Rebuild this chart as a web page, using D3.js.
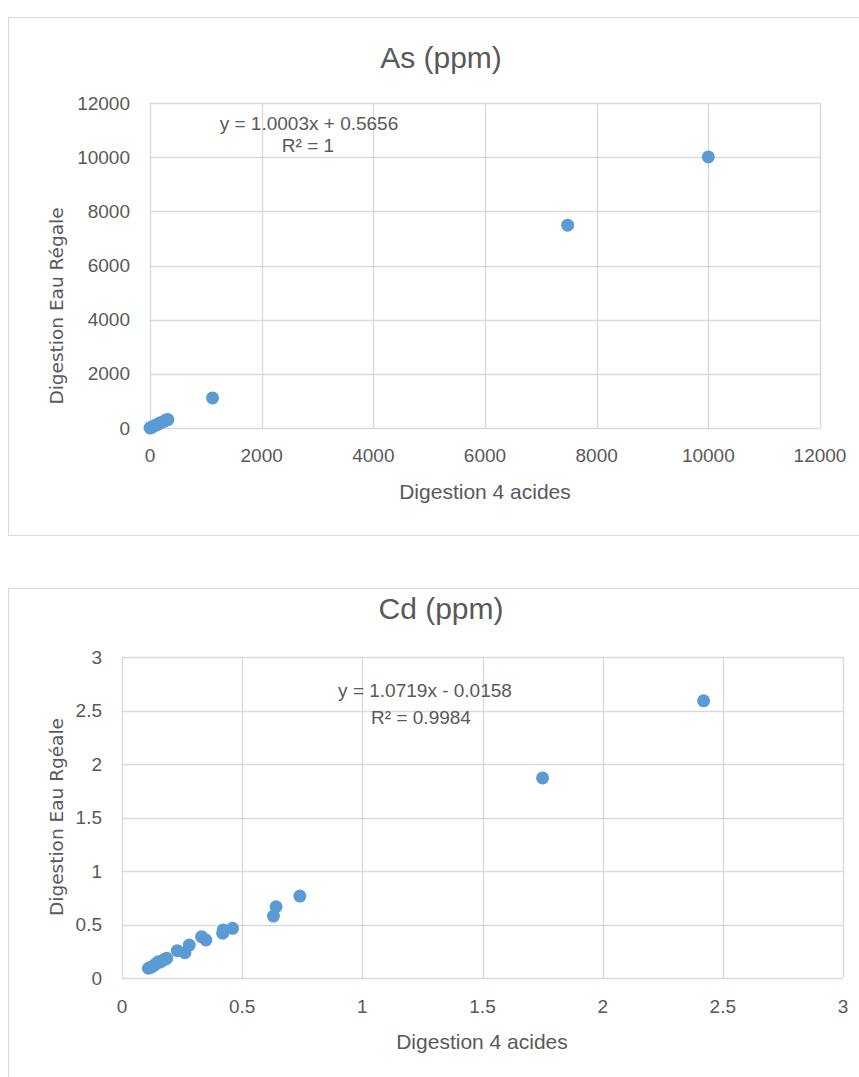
<!DOCTYPE html>
<html><head><meta charset="utf-8">
<script src="https://cdn.jsdelivr.net/npm/d3@7"></script>
<style>
body{margin:0;background:#fff;}
svg{display:block;}
</style></head>
<body>
<svg id="c" width="859" height="1077"></svg>
<script>
// ---- Data ----
const asX = [0, 10, 25, 50, 80, 120, 160, 200, 250, 290, 320, 1120, 7480, 10000];
const asY = [0, 12, 25, 48, 85, 118, 165, 205, 245, 300, 310, 1110, 7490, 10010];
const asTicks = [0, 2000, 4000, 6000, 8000, 10000, 12000];

const cdX = [0.110, 0.120, 0.130, 0.140, 0.151, 0.160, 0.172, 0.180, 0.186, 0.230, 0.262, 0.280, 0.331, 0.349, 0.419, 0.421, 0.460, 0.630, 0.641, 0.740, 1.75, 2.42];
const cdY = [0.091, 0.100, 0.112, 0.130, 0.152, 0.150, 0.168, 0.175, 0.184, 0.255, 0.236, 0.308, 0.386, 0.355, 0.418, 0.449, 0.464, 0.579, 0.666, 0.766, 1.87, 2.59];
const cdTicks = [0, 0.5, 1, 1.5, 2, 2.5, 3];

const svg = d3.select("#c");
const narrow = "'Liberation Sans', 'Open Sans', sans-serif";
const wide = "'DejaVu Sans', 'Open Sans', sans-serif";
const grey = "#595959";

function chart(o){
  const g = svg.append("g");
  // panel border
  g.append("rect").attr("x", o.panel[0]+0.5).attr("y", o.panel[1]+0.5)
    .attr("width", o.panel[2]).attr("height", o.panel[3])
    .attr("fill", "#fff").attr("stroke", "#d9d9d9");
  const x = d3.scaleLinear().domain([0, o.max]).range(o.xr);
  const y = d3.scaleLinear().domain([0, o.max]).range(o.yr);
  // grid
  g.append("g").selectAll("line.v").data(o.ticks).join("line")
    .attr("x1", d=>Math.round(x(d))+0.5).attr("x2", d=>Math.round(x(d))+0.5)
    .attr("y1", o.yr[1]).attr("y2", o.yr[0])
    .attr("stroke", "#d9d9d9").attr("stroke-width", 1.3);
  g.append("g").selectAll("line.h").data(o.ticks).join("line")
    .attr("y1", d=>Math.round(y(d))+0.5).attr("y2", d=>Math.round(y(d))+0.5)
    .attr("x1", o.xr[0]).attr("x2", o.xr[1])
    .attr("stroke", "#d9d9d9").attr("stroke-width", 1.3);
  // tick labels
  g.append("g").selectAll("text").data(o.ticks).join("text")
    .attr("x", d=>x(d)).attr("y", o.yr[0]+ o.xtOff).attr("dy", "0.35em")
    .attr("text-anchor", "middle").attr("font-family", narrow).attr("font-size", 19)
    .attr("fill", grey).text(d=>d);
  g.append("g").selectAll("text").data(o.ticks).join("text")
    .attr("x", o.xr[0]-20).attr("y", d=>y(d)).attr("dy", "0.35em")
    .attr("text-anchor", "end").attr("font-family", narrow).attr("font-size", 19)
    .attr("fill", grey).text(d=>d);
  // title
  g.append("text").attr("x", o.title[0]).attr("y", o.title[1]).attr("dy", "0.35em")
    .attr("text-anchor", "middle").attr("font-family", narrow).attr("font-size", 30)
    .attr("fill", grey).text(o.titleText);
  // axis titles
  g.append("text").attr("x", o.xlab[0]).attr("y", o.xlab[1]).attr("dy", "0.35em")
    .attr("text-anchor", "middle").attr("font-family", narrow).attr("font-size", 21)
    .attr("fill", grey).text("Digestion 4 acides");
  g.append("text").attr("transform", `translate(${o.ylab[0]},${o.ylab[1]}) rotate(-90)`)
    .attr("dy", "0.35em")
    .attr("text-anchor", "middle").attr("font-family", wide).attr("font-size", 18.5)
    .attr("fill", grey).text(o.ylabText);
  // equation
  o.eq.forEach(e=>{
    g.append("text").attr("x", e[0]).attr("y", e[1]).attr("dy", "0.35em")
      .attr("text-anchor", "middle").attr("font-family", narrow).attr("font-size", 19)
      .attr("fill", grey).text(e[2]);
  });
  // points
  g.append("g").selectAll("circle").data(o.xs.map((v,i)=>[v,o.ys[i]])).join("circle")
    .attr("cx", d=>x(d[0])).attr("cy", d=>y(d[1])).attr("r", 6.5)
    .attr("fill", "#5b9bd5");
}

chart({
  panel:[8,17,860,518], max:12000, ticks:asTicks, xr:[150,820], yr:[428,103], xtOff:27,
  xs:asX, ys:asY, title:[441,57], titleText:"As (ppm)",
  xlab:[485,492], ylab:[57,306], ylabText:"Digestion Eau Régale",
  eq:[[309,123,"y = 1.0003x + 0.5656"],[308,145,"R² = 1"]]
});
chart({
  panel:[8,588,860,500], max:3, ticks:cdTicks, xr:[122,843], yr:[978,657], xtOff:28,
  xs:cdX, ys:cdY, title:[441,608], titleText:"Cd (ppm)",
  xlab:[482,1042], ylab:[57,817], ylabText:"Digestion Eau Rgéale",
  eq:[[425,690,"y = 1.0719x - 0.0158"],[421,717,"R² = 0.9984"]]
});
</script>
</body></html>
